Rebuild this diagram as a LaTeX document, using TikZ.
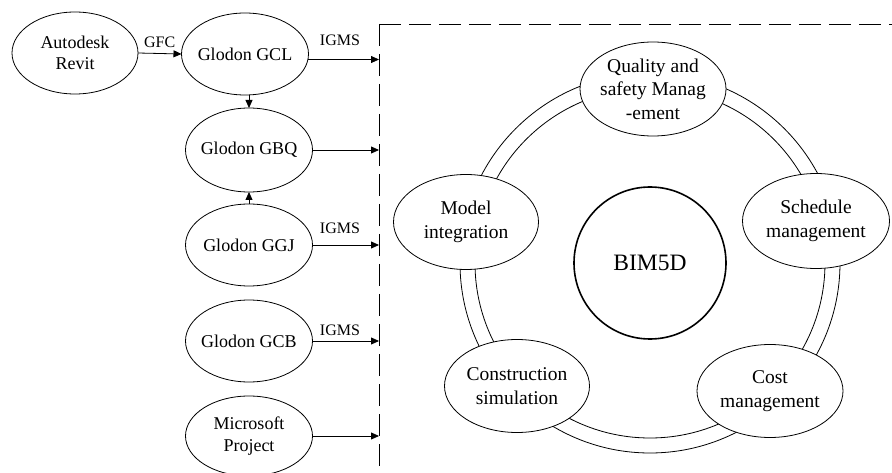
\documentclass[tikz,border=0pt]{standalone}
\usepackage{fontspec}
\IfFontExistsTF{LiberationSerif-Regular.ttf}
  {\setmainfont{LiberationSerif-Regular.ttf}[BoldFont=LiberationSerif-Bold.ttf]}
  {\setmainfont{Liberation Serif}}
\usetikzlibrary{shapes.geometric,arrows.meta}
\begin{document}
\begin{tikzpicture}[x=1pt,y=-1pt,
  ell/.style={ellipse,draw,line width=0.8pt,inner sep=0pt,outer sep=0pt,fill=white},
  lbox/.style={ell,minimum width=127pt,minimum height=82pt},
  rbox/.style={ell,minimum width=146pt,minimum height=94pt},
  ltxt/.style={align=center,inner sep=0pt,font=\rmfamily\fontsize{18}{21.5}\selectfont},
  rtxt/.style={align=center,inner sep=0pt,font=\rmfamily\fontsize{19.5}{23.5}\selectfont},
  lab/.style={inner sep=0pt,font=\rmfamily\fontsize{16}{19}\selectfont},
  arr/.style={-{Triangle[length=8pt,width=7pt]},line width=0.8pt},
  frame/.style={line width=0.9pt,dash pattern=on 22pt off 8pt}]
\useasboundingbox (0,0) rectangle (892,473);
% dashed frame
\coordinate (corner) at (379,24);
\coordinate (dl) at (379,300);
\draw[frame] (corner) -- (892,24);
\draw[frame] (corner) -- (379,480);
% left nodes
\node[lbox,minimum width=126pt] (rev) at (75,53) {};
\node[ltxt] (revt) at (rev) {Autodesk\\Revit};
\node[lbox] (gcl) at (245,54) {};
\node[ltxt] (gclt) at (gcl) {Glodon GCL};
\node[lbox,minimum height=84pt] (gbq) at (249,150) {};
\node[ltxt] (gbqt) at (gbq) {Glodon GBQ};
\node[lbox] (ggj) at (249,245) {};
\node[ltxt] (ggjt) at (ggj) {Glodon GGJ};
\node[lbox] (gcb) at (249,341) {};
\node[ltxt] (gcbt) at (gcb) {Glodon GCB};
\node[lbox,minimum height=80pt] (mp) at (249,436) {};
\node[ltxt] (mpt) at (mp) {Microsoft\\Project};
% left connectors
\draw[arr] (rev.east) -- (gcl.west) node[lab,midway,above=5pt] (gfc) {GFC};
\draw[arr] (gcl.-5) -- (gcl.-5 -| dl);
\node[lab] (igms1) at (340,40) {IGMS};
\draw[arr] (gbq.east) -- (gbq.east -| dl);
\draw[arr] (ggj.east) -- (ggj.east -| dl);
\node[lab] (igms2) at (340,228) {IGMS};
\draw[arr] (gcb.east) -- (gcb.east -| dl);
\node[lab] (igms3) at (340,330) {IGMS};
\draw[arr] (mp.east) -- (mp.east -| dl);
\draw[arr] (gcl.south -| gbq.north) -- (gbq.north);
\draw[arr] (ggj.north) -- (gbq.south);
% ring
\coordinate (rc) at (650,263);
\draw[line width=0.8pt] (rc) circle[radius=190];
\draw[line width=0.8pt] (rc) circle[radius=175];
\node[circle,draw,line width=1.6pt,minimum size=152pt,inner sep=0pt,font=\rmfamily\fontsize{23.5}{28}\selectfont] (bim) at (rc) {BIM5D};
\node[rbox] (q) at (653,89) {};
\node[rtxt] (qt) at (q) {Quality and\\safety Manag\\-ement};
\node[rbox,minimum width=147pt,minimum height=95pt] (sch) at (816,221) {};
\node[rtxt] (scht) at (sch) {Schedule\\management};
\node[rbox,minimum width=145pt,minimum height=95pt] (mod) at (466,222) {};
\node[rtxt] (modt) at (mod) {Model\\integration};
\node[rbox,minimum width=145pt,minimum height=93pt] (con) at (517,386) {};
\node[rtxt] (cont) at (con) {Construction\\simulation};
\node[rbox,minimum height=93pt] (cost) at (770,391) {};
\node[rtxt] (costt) at (cost) {Cost\\management};
\end{tikzpicture}
\end{document}
